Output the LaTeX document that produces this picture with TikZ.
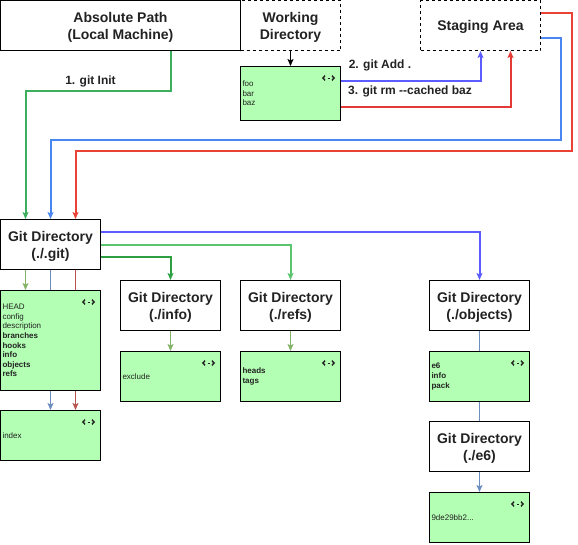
\documentclass[tikz,border=0pt]{standalone}
\usepackage{fontspec}
\setmainfont{Liberation Sans}
\usetikzlibrary{arrows.meta,backgrounds,calc}
\definecolor{gfill}{HTML}{B3FFB3}
\definecolor{txt}{HTML}{222222}
\definecolor{cinit}{HTML}{3DAE5B}
\definecolor{cadd}{HTML}{5C5CFF}
\definecolor{crm}{HTML}{E53935}
\definecolor{sblue}{HTML}{4A86F0}
\definecolor{sred}{HTML}{EA4335}
\definecolor{gmid}{HTML}{5CC46F}
\definecolor{gdark}{HTML}{2EA043}
\definecolor{lgreen}{HTML}{82B366}
\definecolor{lblue}{HTML}{6C8EBF}
\definecolor{lred}{HTML}{B85450}
\newcommand{\titlefont}{\fontsize{14}{17}\selectfont\bfseries}
\newcommand{\lblfont}{\fontsize{12}{14}\selectfont\bfseries}
\newcommand{\smallfont}{\fontsize{8}{9.6}\selectfont}
\newcommand{\ttl}[1]{\raisebox{-2pt}[\height][\depth]{\begin{tabular}{@{}c@{}}#1\end{tabular}}}
\tikzset{
  tbox/.style={draw, line width=1pt, fill=white, minimum width=100pt, minimum height=50pt,
    align=center, font=\titlefont, text=txt, inner sep=0pt},
  dbox/.style={tbox, dashed, dash pattern=on 3pt off 3pt},
  gbox/.style={draw, line width=1pt, fill=gfill, minimum width=100pt, minimum height=50pt,
    text width=96pt, align=left, inner xsep=2pt, inner ysep=0pt, font=\smallfont, text=txt},
  lbl/.style={font=\lblfont, text=txt, inner sep=0pt},
  tip/.style={-{Stealth[length=7pt,width=6pt,inset=1.5pt]}},
  thick2/.style={line width=2pt, tip},
  thin1/.style={line width=1pt, tip},
  ico/.pic={
    \draw[line width=1.4pt, color=txt] (-3.5,-2.3) -- (-5.6,0) -- (-3.5,2.3);
    \draw[line width=1.4pt, color=txt] (3.5,-2.3) -- (5.6,0) -- (3.5,2.3);
    \draw[line width=0.8pt, color=txt] (-1,0) -- (1,0);
  }
}
\begin{document}
\begin{tikzpicture}[x=1pt,y=-1pt]
\useasboundingbox (0,0) rectangle (578,544);

% top row
\node[tbox, minimum width=240pt] (abs) at (120.5,25.5) {\ttl{Absolute Path\\(Local Machine)}};
\node[dbox] (work) at (290.5,25.5) {\ttl{Working\\Directory}};
\node[dbox, minimum width=120pt] (stag) at (480.5,25.5) {\ttl{Staging Area}};
\node[gbox, minimum height=54pt] (foo) at (290.5,93.5) {foo\\bar\\baz};
\pic at ([xshift=-12.5pt,yshift=-12pt]foo.north east) {ico};

% git dir column
\node[tbox] (git) at (50.5,244.5) {\ttl{Git Directory\\(./.git)}};
\node[gbox, minimum height=100pt] (head) at (50.5,340.5)
  {HEAD\\config\\description\\\textbf{branches}\\\textbf{hooks}\\\textbf{info}\\\textbf{objects}\\\textbf{refs}};
\pic at ([xshift=-12.5pt,yshift=-12pt]head.north east) {ico};
\node[gbox] (index) at (50.5,435.5) {index};
\pic at ([xshift=-12.5pt,yshift=-12pt]index.north east) {ico};

% info
\node[tbox] (infodir) at (170.5,305.5) {\ttl{Git Directory\\(./info)}};
\node[gbox] (excl) at (170.5,376.5) {exclude};
\pic at ([xshift=-12.5pt,yshift=-12pt]excl.north east) {ico};

% refs
\node[tbox] (refsdir) at (290.5,305.5) {\ttl{Git Directory\\(./refs)}};
\node[gbox] (heads) at (290.5,376.5) {\textbf{heads}\\\textbf{tags}};
\pic at ([xshift=-12.5pt,yshift=-12pt]heads.north east) {ico};

% objects
\node[tbox] (objdir) at (479.5,305.5) {\ttl{Git Directory\\(./objects)}};
\node[gbox] (e6) at (479.5,376.5) {\textbf{e6}\\\textbf{info}\\\textbf{pack}};
\pic at ([xshift=-12.5pt,yshift=-12pt]e6.north east) {ico};
\node[tbox] (e6dir) at (479.5,446.5) {\ttl{Git Directory\\(./e6)}};
\node[gbox] (hash) at (479.5,517.5) {9de29bb2...};
\pic at ([xshift=-12.5pt,yshift=-12pt]hash.north east) {ico};

% labels
\node[lbl] (l1) at (90.5,81) {1. git Init};
\node[lbl] (l2) at (380,65.5) {2. git Add .};
\node[lbl] (l3) at (410,91.5) {3. git rm -{}-cached baz};

\begin{scope}[on background layer]
  \draw[thick2, cinit] ([xshift=50pt]abs.south) -- ++(0,40) -| ([xshift=-25pt]git.north);
  \draw[thin1, black] (work.south) -- (foo.north);
  \draw[thick2, cadd] ([yshift=13pt]foo.east) -| (stag.south);
  \draw[thick2, crm] ([yshift=-13pt]foo.east) -| ([xshift=30pt]stag.south);
  \draw[thick2, sblue] ([yshift=-12.5pt]stag.east) -- ++(20,0) -- ++(0,102) -| (git.north);
  \draw[thick2, sred] ([yshift=12.5pt]stag.east) -- ++(30.5,0) -- ++(0,137.5) -| ([xshift=25pt]git.north);
  \draw[thick2, cadd] ([yshift=12.5pt]git.east) -| (objdir.north);
  \draw[thick2, gmid] (git.east) -| (refsdir.north);
  \draw[thick2, gdark] ([yshift=-12.5pt]git.east) -| (infodir.north);
  \draw[thin1, lgreen] ([xshift=-25pt]git.south) -- ([xshift=-25pt]head.north);
  \draw[thin1, lblue] (git.south) -- (index.north);
  \draw[thin1, lred] ([xshift=25pt]git.south) -- ([xshift=25pt]index.north);
  \draw[thin1, lgreen] (infodir.south) -- (excl.north);
  \draw[thin1, lgreen] (refsdir.south) -- (heads.north);
  \draw[thin1, lblue] (objdir.south) -- (hash.north);
\end{scope}
\end{tikzpicture}
\end{document}
